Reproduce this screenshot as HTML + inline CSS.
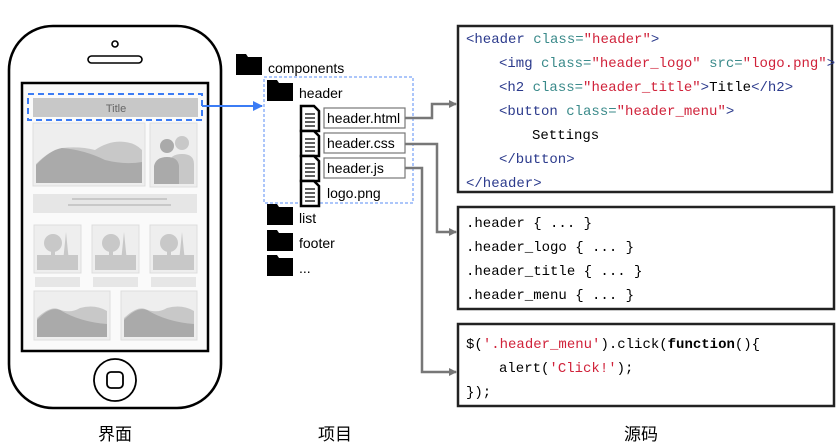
<!DOCTYPE html>
<html><head><meta charset="utf-8"><style>
body{margin:0;background:#fff;}
svg{display:block;}
.m{font-family:"Liberation Mono",monospace;font-size:14px;}
.s{font-family:"Liberation Sans","Noto Sans CJK SC",sans-serif;}
.t{fill:#2b3a8c}.a{fill:#3a8a8a}.v{fill:#d0223a}.k{fill:#000}
</style></head><body>
<svg width="840" height="446" viewBox="0 0 840 446" xmlns="http://www.w3.org/2000/svg">
<defs>
<marker id="ag" markerWidth="8" markerHeight="8" refX="7" refY="4" orient="auto" markerUnits="userSpaceOnUse"><path d="M0,0 L8,4 L0,8z" fill="#777"/></marker>
<marker id="ab" markerWidth="10" markerHeight="10" refX="9" refY="5" orient="auto" markerUnits="userSpaceOnUse"><path d="M0,0 L10,5 L0,10z" fill="#3b7cf5"/></marker>
<g id="fold"><path d="M0,1 h10 l2,3 h14 v18 h-26z" fill="#000"/></g>
<g id="file"><path d="M0,0 h13 l5,5 v20 h-18z" fill="#fff" stroke="#000" stroke-width="2.5"/><path d="M4,8h10M4,12h10M4,16h10M4,20h10" stroke="#000" stroke-width="1.3"/></g>
</defs>
<!-- phone -->
<rect x="9" y="26" width="212" height="382" rx="44" fill="#fff" stroke="#000" stroke-width="2.6"/>
<circle cx="115" cy="44" r="3" fill="none" stroke="#000" stroke-width="1.6"/>
<rect x="88" y="56" width="54" height="7" rx="3.5" fill="none" stroke="#000" stroke-width="1.6"/>
<circle cx="115" cy="380" r="21" fill="none" stroke="#000" stroke-width="1.8"/>
<rect x="107" y="372" width="16" height="16" rx="4" fill="none" stroke="#000" stroke-width="1.8"/>
<rect x="22" y="83" width="186" height="268" fill="#fafafa" stroke="#000" stroke-width="2.5"/>
<rect x="33" y="98" width="165" height="19" fill="#c8c8c8"/>
<text x="116" y="112" class="s" font-size="11" fill="#666" text-anchor="middle">Title</text>
<rect x="28" y="94" width="174" height="26" fill="none" stroke="#3b7cf5" stroke-width="2" stroke-dasharray="6,4"/>
<rect x="33" y="123" width="112" height="63" fill="#eee" stroke="#ddd"/>
<path d="M36,164 Q50,150 62,148 Q80,146 95,150 Q110,140 125,142 Q135,143 142,150 V183 H36z" fill="#c8c8c8"/>
<path d="M36,165 Q50,150 62,148 Q85,150 105,160 Q125,165 142,162 V183 H36z" fill="#aaa"/>
<rect x="150" y="123" width="47" height="64" fill="#eee" stroke="#ddd"/>
<circle cx="182" cy="143" r="7" fill="#c8c8c8"/><path d="M168,184 v-20 q2,-10 14,-10 q12,0 12,10 v20z" fill="#c8c8c8"/>
<circle cx="167" cy="146" r="7" fill="#aaa"/><path d="M154,184 v-18 q2,-9 13,-9 q11,0 12,9 v18z" fill="#aaa"/>
<rect x="33" y="194" width="164" height="19" fill="#e6e6e6"/>
<path d="M72,199h95M68,205h103" stroke="#c8c8c8" stroke-width="2"/>
<g fill="#c8c8c8">
<rect x="34" y="225" width="47" height="48" fill="#eee" stroke="#ddd"/><rect x="37" y="255" width="41" height="15"/><circle cx="53" cy="243" r="9"/><rect x="51" y="245" width="4" height="22"/><path d="M63,262 l3,-30 l3,30z"/><rect x="35" y="277" width="45" height="10" fill="#e6e6e6"/>
<rect x="92" y="225" width="47" height="48" fill="#eee" stroke="#ddd"/><rect x="95" y="255" width="41" height="15"/><circle cx="111" cy="243" r="9"/><rect x="109" y="245" width="4" height="22"/><path d="M121,262 l3,-30 l3,30z"/><rect x="93" y="277" width="45" height="10" fill="#e6e6e6"/>
<rect x="150" y="225" width="47" height="48" fill="#eee" stroke="#ddd"/><rect x="153" y="255" width="41" height="15"/><circle cx="169" cy="243" r="9"/><rect x="167" y="245" width="4" height="22"/><path d="M179,262 l3,-30 l3,30z"/><rect x="151" y="277" width="45" height="10" fill="#e6e6e6"/>
</g>
<rect x="34" y="291" width="76" height="49" fill="#eee" stroke="#ddd"/>
<path d="M37,318 Q50,306 58,309 Q70,314 80,308 Q95,304 107,311 V337 H37z" fill="#c8c8c8"/><path d="M37,320 Q50,306 60,310 Q80,322 107,324 V337 H37z" fill="#aaa"/>
<rect x="121" y="291" width="76" height="49" fill="#eee" stroke="#ddd"/>
<path d="M124,318 Q137,306 145,309 Q157,314 167,308 Q182,304 194,311 V337 H124z" fill="#c8c8c8"/><path d="M124,320 Q137,306 147,310 Q167,322 194,324 V337 H124z" fill="#aaa"/>
<path d="M202,106 H262" stroke="#3b7cf5" stroke-width="2" fill="none" marker-end="url(#ab)"/>
<use href="#fold" x="236" y="53"/>
<text x="268" y="73" class="s" font-size="14">components</text>
<rect x="264" y="77" width="149" height="126" fill="none" stroke="#5a8ef5" stroke-width="1" stroke-dasharray="3,2"/>
<use href="#fold" x="267" y="79"/>
<text x="299" y="98" class="s" font-size="14">header</text>
<use href="#file" x="301" y="106"/><rect x="324" y="108" width="81" height="20" fill="none" stroke="#777" stroke-width="1.2"/><text x="327" y="123" class="s" font-size="14">header.html</text>
<use href="#file" x="301" y="131"/><rect x="324" y="133" width="81" height="20" fill="none" stroke="#777" stroke-width="1.2"/><text x="327" y="148" class="s" font-size="14">header.css</text>
<use href="#file" x="301" y="156"/><rect x="324" y="158" width="81" height="20" fill="none" stroke="#777" stroke-width="1.2"/><text x="327" y="173" class="s" font-size="14">header.js</text>
<use href="#file" x="301" y="181"/><text x="327" y="198" class="s" font-size="14">logo.png</text>
<use href="#fold" x="267" y="203"/><text x="299" y="223" class="s" font-size="14">list</text>
<use href="#fold" x="267" y="229"/><text x="299" y="248" class="s" font-size="14">footer</text>
<use href="#fold" x="267" y="254"/><text x="299" y="273" class="s" font-size="14">...</text>
<g stroke="#777" stroke-width="2.5" fill="none">
<path d="M405,118 H432 V104 H456" marker-end="url(#ag)"/>
<path d="M405,144 H437 V232 H456" marker-end="url(#ag)"/>
<path d="M405,168 H422 V372 H456" marker-end="url(#ag)"/>
</g>
<rect x="458" y="26" width="374" height="166" fill="#fff" stroke="#222" stroke-width="2.5"/>
<rect x="458" y="207" width="376" height="102" fill="#fff" stroke="#222" stroke-width="2.5"/>
<rect x="458" y="324" width="376" height="82" fill="#fff" stroke="#222" stroke-width="2.5"/>
<g class="m">
<text x="466" y="43"><tspan class="t">&lt;header</tspan> <tspan class="a">class=</tspan><tspan class="v">"header"</tspan><tspan class="t">&gt;</tspan></text>
<text x="499" y="67"><tspan class="t">&lt;img</tspan> <tspan class="a">class=</tspan><tspan class="v">"header_logo"</tspan> <tspan class="a">src=</tspan><tspan class="v">"logo.png"</tspan><tspan class="t">&gt;</tspan></text>
<text x="499" y="91"><tspan class="t">&lt;h2</tspan> <tspan class="a">class=</tspan><tspan class="v">"header_title"</tspan><tspan class="t">&gt;</tspan><tspan class="k">Title</tspan><tspan class="t">&lt;/h2&gt;</tspan></text>
<text x="499" y="115"><tspan class="t">&lt;button</tspan> <tspan class="a">class=</tspan><tspan class="v">"header_menu"</tspan><tspan class="t">&gt;</tspan></text>
<text x="532" y="139" class="k">Settings</text>
<text x="499" y="163" class="t">&lt;/button&gt;</text>
<text x="466" y="187" class="t">&lt;/header&gt;</text>
<text x="466" y="227" class="k">.header { ... }</text>
<text x="466" y="251" class="k">.header_logo { ... }</text>
<text x="466" y="275" class="k">.header_title { ... }</text>
<text x="466" y="299" class="k">.header_menu { ... }</text>
<text x="466" y="348" class="k">$(<tspan class="v">'.header_menu'</tspan>).click(<tspan font-weight="bold">function</tspan>(){</text>
<text x="499" y="372" class="k">alert(<tspan class="v">'Click!'</tspan>);</text>
<text x="466" y="396" class="k">});</text>
</g>
<text x="115" y="440" class="s" font-size="17" text-anchor="middle">界面</text>
<text x="335" y="440" class="s" font-size="17" text-anchor="middle">项目</text>
<text x="641" y="440" class="s" font-size="17" text-anchor="middle">源码</text>
</svg>
</body></html>
